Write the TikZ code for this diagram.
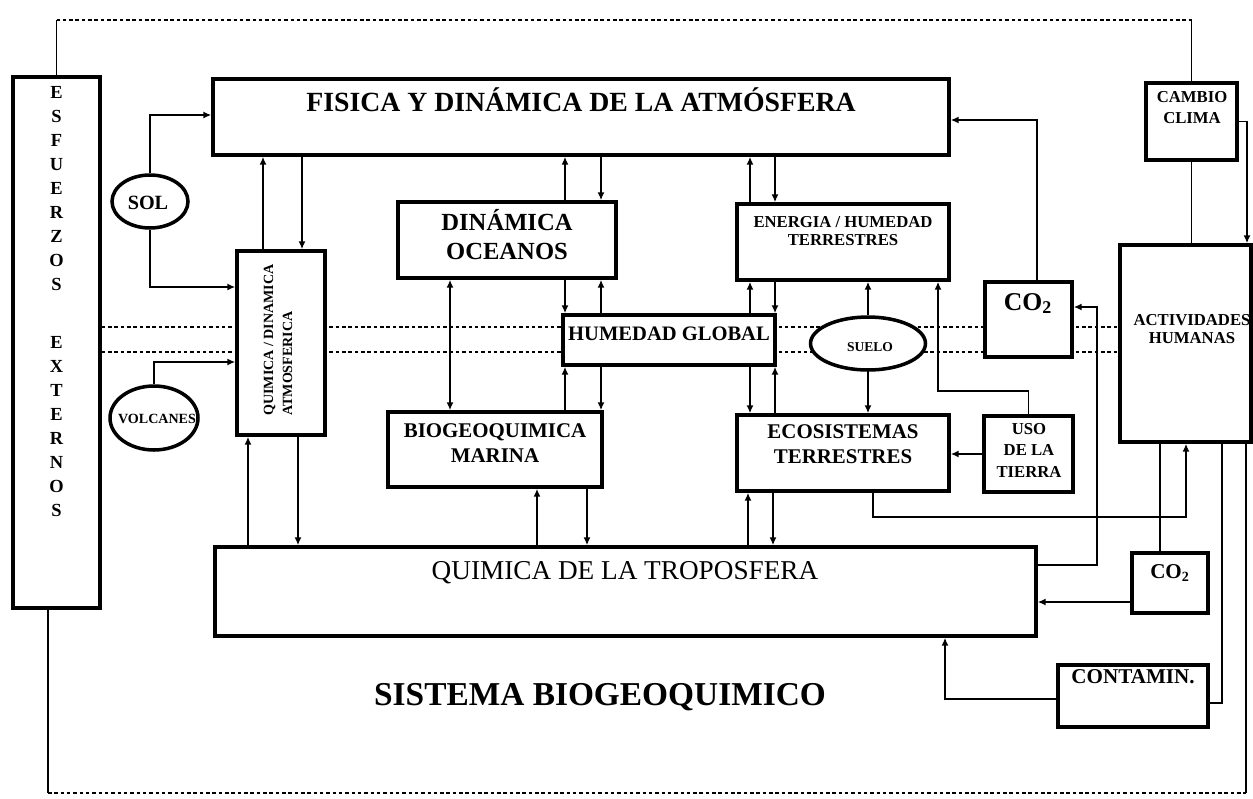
\documentclass[tikz,border=0pt]{standalone}
\usepackage{fontspec}
\setmainfont{Liberation Serif}
\usetikzlibrary{arrows.meta,shapes.geometric,backgrounds}

\begin{document}
\begin{tikzpicture}[x=0.02cm,y=-0.02cm,
        box/.style={draw,line width=2pt,fill=white,inner sep=0pt},
        oval/.style={ellipse,draw,line width=2pt,fill=white,inner sep=0pt},
        txt/.style={anchor=base,inner sep=0pt,align=center},
        conn/.style={line width=1.1pt},
        frameline/.style={line width=0.6pt},
        dots/.style={line width=0.8pt,dash pattern=on 2pt off 1.6pt},
        >={Latex[length=4.5pt,width=4pt]}]
    \useasboundingbox (0,0) rectangle (1253,798);

    % boxes and their texts (base = last line)
    \node[box,minimum width=17.4mm,minimum height=106.2mm] (esf) at (56.5,342.5) {};
    \node[txt,font=\bfseries\fontsize{10.5}{13.66}\selectfont] (esft) at (56.5,516)
        {E\\S\\F\\U\\E\\R\\Z\\O\\S\\[18.8pt]E\\X\\T\\E\\R\\N\\O\\S};
    \node[box,minimum width=147.2mm,minimum height=15.2mm] (fis) at (581,117) {};
    \node[txt,font=\bfseries\fontsize{15.8}{18}\selectfont] (fist) at (581,111) {FISICA Y DINÁMICA DE LA ATMÓSFERA};
    \node[box,minimum width=17.6mm,minimum height=36.8mm] (qd) at (281,343) {};
    \node[inner sep=0pt,rotate=90,align=left,font=\bfseries\fontsize{8}{10.8}\selectfont] (qdt) at (278,340)
        {QUIMICA / DINAMICA\\ATMOSFERICA};
    \node[box,minimum width=43.6mm,minimum height=15.2mm] (do) at (507,240) {};
    \node[txt,font=\bfseries\fontsize{14}{16.5}\selectfont] (dot) at (507,259) {DINÁMICA\\OCEANOS};
    \node[box,minimum width=42.4mm,minimum height=15.2mm] (eht) at (843,242) {};
    \node[txt,font=\bfseries\fontsize{9.5}{10.2}\selectfont] (ehtt) at (843,245) {ENERGIA / HUMEDAD\\TERRESTRES};
    \node[box,minimum width=42.4mm,minimum height=10mm] (hg) at (669,340) {};
    \node[txt,font=\bfseries\fontsize{11.7}{14}\selectfont] (hgt) at (669,340) {HUMEDAD GLOBAL};
    \node[box,minimum width=42.8mm,minimum height=15mm] (bm) at (495,449.5) {};
    \node[txt,font=\bfseries\fontsize{11.9}{14.2}\selectfont] (bmt) at (495,462) {BIOGEOQUIMICA\\MARINA};
    \node[box,minimum width=42.4mm,minimum height=15.2mm] (et) at (843,453) {};
    \node[txt,font=\bfseries\fontsize{11.9}{14.2}\selectfont] (ett) at (843,463) {ECOSISTEMAS\\TERRESTRES};
    \node[box,minimum width=17.8mm,minimum height=15.2mm] (uso) at (1028.5,454) {};
    \node[txt,font=\bfseries\fontsize{9.5}{12}\selectfont] (usot) at (1029,477) {USO\\DE LA\\TIERRA};
    \node[box,minimum width=17.4mm,minimum height=15mm] (co2a) at (1028.5,319.5) {};
    \node[txt,font=\bfseries\fontsize{14.6}{17}\selectfont] (co2at) at (1028,310) {CO\textsubscript{2}};
    \node[box,minimum width=26.2mm,minimum height=39.4mm] (act) at (1185.5,343.5) {};
    \node[txt,font=\bfseries\fontsize{9.5}{10.2}\selectfont] (actt) at (1192,343) {ACTIVIDADES\\HUMANAS};
    \node[box,minimum width=18.2mm,minimum height=15.4mm] (cc) at (1191.5,121.5) {};
    \node[txt,font=\bfseries\fontsize{9.5}{11.4}\selectfont] (cct) at (1192,123) {CAMBIO\\CLIMA};
    \node[box,minimum width=164.2mm,minimum height=17.8mm] (qt) at (625.5,591.5) {};
    \node[txt,font=\fontsize{15.5}{18}\selectfont] (qtt) at (625,579) {QUIMICA DE LA TROPOSFERA};
    \node[box,minimum width=15.2mm,minimum height=12mm] (co2b) at (1170,583) {};
    \node[txt,font=\bfseries\fontsize{12}{14}\selectfont] (co2bt) at (1170,578) {CO\textsubscript{2}};
    \node[box,minimum width=30mm,minimum height=12.4mm] (cont) at (1133,696) {};
    \node[txt,font=\bfseries\fontsize{12}{14}\selectfont] (contt) at (1133,683) {CONTAMIN.};

    % ovals
    \node[oval,minimum width=15.2mm,minimum height=10.6mm] (sol) at (150,201.5) {};
    \node[txt,font=\bfseries\fontsize{11.5}{13}\selectfont] (solt) at (148,209) {SOL};
    \node[oval,minimum width=17.6mm,minimum height=12.8mm] (volc) at (154,418) {};
    \node[txt,font=\bfseries\fontsize{8}{10}\selectfont] (volct) at (157,423) {VOLCANES};
    \node[oval,minimum width=23mm,minimum height=10.6mm] (suelo) at (868,343.5) {};
    \node[txt,font=\bfseries\fontsize{7.7}{9}\selectfont] (suelot) at (870,351) {SUELO};

    \node[txt,font=\bfseries\fontsize{19}{22}\selectfont] (sis) at (600,705) {SISTEMA BIOGEOQUIMICO};

    % dotted lines behind the boxes
    \begin{scope}[on background layer]
        \fill[white] (0,0) rectangle (1253,798);
        \draw[dots] (esf.east |- 0,327) -- (act.west |- 0,327);
        \draw[dots] (esf.east |- 0,352) -- (act.west |- 0,352);
    \end{scope}

    % outer loop
    \coordinate (tl) at (56.5,20);
    \coordinate (tr) at (1191.5,20);
    \coordinate (bl) at (48,793);
    \coordinate (br) at (1246,793);
    \draw[frameline] (esf.north) -- (tl);
    \draw[dots] (tl) -- (tr);
    \draw[frameline] (tr) -- (cc.north);
    \draw[frameline] (esf.south -| bl) -- (bl);
    \draw[dots] (bl) -- (br);
    \draw[frameline] (br) -- (act.south -| br);

    % sol, volcanes
    \draw[conn,->] (sol.north) |- (fis.west |- 0,115);
    \draw[conn,->] (sol.south) |- (qd.west |- 0,287);
    \draw[conn,->] (volc.north) |- (qd.west |- 0,362);

    % atmosfera
    \draw[conn,->] (263,0 |- qd.north) -- (263,0 |- fis.south);
    \draw[conn,->] (302,0 |- fis.south) -- (302,0 |- qd.north);
    \draw[conn,->] (248,0 |- qt.north) -- (248,0 |- qd.south);
    \draw[conn,->] (298,0 |- qd.south) -- (298,0 |- qt.north);
    \draw[conn,->] (565,0 |- do.north) -- (565,0 |- fis.south);
    \draw[conn,->] (601,0 |- fis.south) -- (601,0 |- do.north);
    \draw[conn,->] (750,0 |- eht.north) -- (750,0 |- fis.south);
    \draw[conn,->] (775,0 |- fis.south) -- (775,0 |- eht.north);

    % oceanos
    \draw[conn,<->] (450,0 |- do.south) -- (450,0 |- bm.north);
    \draw[conn,->] (565,0 |- do.south) -- (565,0 |- hg.north);
    \draw[conn,->] (565,0 |- bm.north) -- (565,0 |- hg.south);
    \draw[conn,->] (601,0 |- hg.north) -- (601,0 |- do.south);
    \draw[conn,->] (601,0 |- hg.south) -- (601,0 |- bm.north);
    \draw[conn,->] (537,0 |- qt.north) -- (537,0 |- bm.south);
    \draw[conn,->] (587,0 |- bm.south) -- (587,0 |- qt.north);

    % tierra
    \draw[conn,->] (750,0 |- hg.north) -- (750,0 |- eht.south);
    \draw[conn,->] (750,0 |- hg.south) -- (750,0 |- et.north);
    \draw[conn,->] (775,0 |- eht.south) -- (775,0 |- hg.north);
    \draw[conn,->] (775,0 |- et.north) -- (775,0 |- hg.south);
    \draw[conn,->] (748,0 |- qt.north) -- (748,0 |- et.south);
    \draw[conn,->] (773,0 |- et.south) -- (773,0 |- qt.north);
    \draw[conn,->] (suelo.north) -- (suelo.north |- eht.south);
    \draw[conn,->] (suelo.south) -- (suelo.south |- et.north);
    \draw[conn,->] (uso.north) -- ++(0,-23) -| (938,0 |- eht.south);
    \draw[conn,->] (uso.west) -- (uso.west -| et.east);

    % co2, actividades
    \draw[conn,->] (1037,0 |- co2a.north) |- (fis.east |- 0,120);
    \draw[conn,->] (qt.east |- 0,565) -| (1097,307) -- (co2a.east |- 0,307);
    \draw[conn,->] (873,0 |- et.south) -- ++(0,24) -| (1186,0 |- act.south);
    \draw[conn] (cc.south) -- (cc.south |- act.north);
    \draw[conn,->] (cc.east) -| (1247,0 |- act.north);
    \draw[conn] (1160,0 |- act.south) -- (1160,0 |- co2b.north);
    \draw[conn,->] (co2b.west |- 0,602) -- (qt.east |- 0,602);
    \draw[conn,->] (cont.west |- 0,699) -| (945,0 |- qt.south);
    \draw[conn] (1222,0 |- act.south) |- (cont.east |- 0,703);
\end{tikzpicture}
\end{document}
